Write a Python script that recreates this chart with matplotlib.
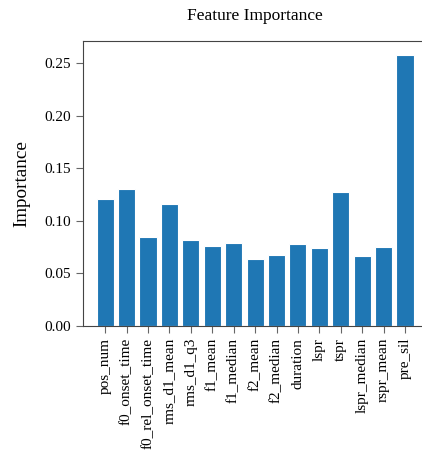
import numpy as np
import matplotlib
matplotlib.use("Agg")
import matplotlib.pyplot as plt

features = ["pos_num", "f0_onset_time", "f0_rel_onset_time", "rms_d1_mean", "rms_d1_q3",
            "f1_mean", "f1_median", "f2_mean", "f2_median", "duration", "lspr", "tspr",
            "lspr_median", "rspr_mean", "pre_sil"]
importance = [0.1204, 0.1300, 0.0846, 0.1160, 0.0820, 0.0760, 0.0790, 0.0637, 0.0672,
              0.0780, 0.0745, 0.1277, 0.0662, 0.0754, 0.2576]
yticks = [0.00, 0.05, 0.10, 0.15, 0.20, 0.25]

plt.rcParams['font.family'] = ['Liberation Serif', 'DejaVu Serif']
plt.rcParams['font.size'] = 11

fig = plt.figure(figsize=(4.22, 4.55), dpi=100)
ax = fig.add_axes([0.197, 0.2835, 0.815, 0.6265])

x = np.arange(len(features))
ax.bar(x, importance, width=0.8, color='#1f77b4', edgecolor='white', linewidth=0.8)
ax.set_xticks(x)
ax.set_xticklabels(features, rotation=90)
ax.set_yticks(yticks)
ax.set_yticklabels(["%.2f" % v for v in yticks])
ax.set_xlim(-1.03, 15.03)
ax.set_ylim(0, 0.271)
ax.set_ylabel("Importance", fontsize=13.75, labelpad=10)
ax.set_title("Feature Importance", fontsize=12.5, pad=15)
for s in ax.spines.values():
    s.set_color('#444444')
ax.tick_params(colors='#666666', labelcolor='black', length=5)

fig.savefig("out.png", dpi=100)
